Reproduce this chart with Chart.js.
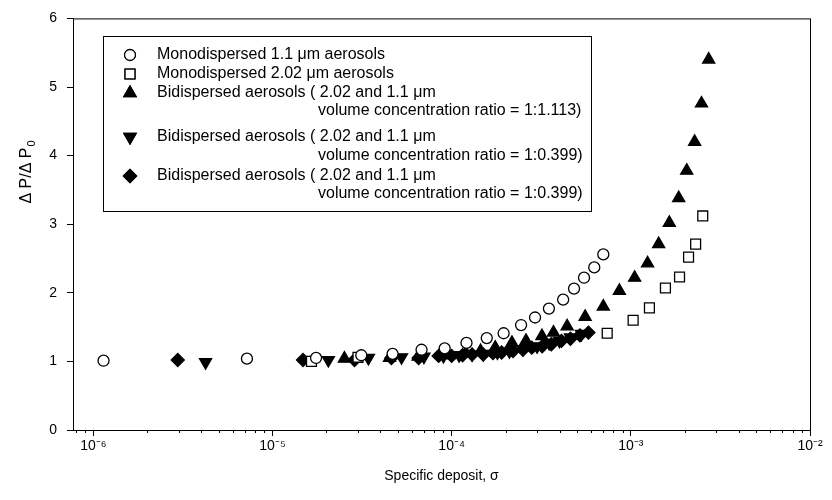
<!DOCTYPE html>
<html>
<head>
<meta charset="utf-8">
<script src="https://cdn.jsdelivr.net/npm/chart.js@4/dist/chart.umd.min.js"></script>
<style>
  html, body { margin: 0; padding: 0; background: #fff; }
</style>
</head>
<body>
<canvas id="myChart" width="832" height="500"></canvas>
<script>
// values
const mono11Sigma = [1.14e-6, 7.2e-6, 1.75e-5, 3.13e-5, 4.68e-5, 6.79e-5, 9.14e-5, 1.21e-4, 1.57e-4, 1.95e-4,
  2.44e-4, 2.92e-4, 3.49e-4, 4.19e-4, 4.82e-4, 5.48e-4, 6.25e-4, 7.02e-4];
const mono11Ratio = [1.01, 1.04, 1.05, 1.09, 1.11, 1.17, 1.19, 1.27, 1.34, 1.41,
  1.53, 1.64, 1.77, 1.90, 2.06, 2.22, 2.37, 2.56];

const mono202Sigma = [1.65e-5, 3.0e-5, 7.38e-4, 1.03e-3, 1.27e-3, 1.56e-3, 1.87e-3, 2.10e-3, 2.30e-3, 2.52e-3];
const mono202Ratio = [1.0, 1.06, 1.41, 1.60, 1.78, 2.07, 2.23, 2.52, 2.71, 3.12];

const bi1113Sigma = [2.52e-5, 4.5e-5, 6.5e-5, 9.0e-5, 1.2e-4, 1.45e-4, 1.75e-4, 2.17e-4, 2.6e-4, 3.19e-4,
  3.7e-4, 4.41e-4, 5.56e-4, 7.02e-4, 8.63e-4, 1.05e-3, 1.24e-3, 1.43e-3, 1.64e-3, 1.85e-3,
  2.05e-3, 2.27e-3, 2.48e-3, 2.72e-3];
const bi1113Ratio = [1.04, 1.05, 1.07, 1.09, 1.12, 1.15, 1.20, 1.27, 1.30, 1.37,
  1.42, 1.51, 1.65, 1.80, 2.03, 2.22, 2.43, 2.71, 3.02, 3.38,
  3.78, 4.20, 4.76, 5.40];

const bi0399aSigma = [4.23e-6, 2.05e-5, 3.43e-5, 5.25e-5, 7.0e-5, 9.0e-5, 1.1e-4, 1.3e-4, 1.5e-4, 1.8e-4,
  2.1e-4, 2.5e-4, 3.0e-4, 3.5e-4, 4.0e-4, 4.6e-4, 5.3e-4];
const bi0399aRatio = [0.99, 1.02, 1.05, 1.06, 1.07, 1.08, 1.09, 1.10, 1.11, 1.13,
  1.15, 1.18, 1.22, 1.27, 1.30, 1.35, 1.40];

const bi0399bSigma = [2.96e-6, 1.48e-5, 2.87e-5, 4.61e-5, 6.54e-5, 8.46e-5, 1.0e-4, 1.15e-4, 1.3e-4, 1.5e-4,
  1.7e-4, 1.9e-4, 2.2e-4, 2.5e-4, 2.8e-4, 3.2e-4, 3.6e-4, 4.1e-4, 4.6e-4, 5.2e-4, 5.8e-4];
const bi0399bRatio = [1.02, 1.02, 1.02, 1.05, 1.05, 1.08, 1.08, 1.09, 1.10, 1.10,
  1.12, 1.13, 1.15, 1.17, 1.20, 1.22, 1.25, 1.30, 1.33, 1.38, 1.42];

const legendLines = [
  ["Monodispersed 1.1 \u03bcm aerosols"],
  ["Monodispersed 2.02 \u03bcm aerosols"],
  ["Bidispersed aerosols ( 2.02 and 1.1 \u03bcm", "volume concentration ratio = 1:1.113)"],
  ["Bidispersed aerosols ( 2.02 and 1.1 \u03bcm", "volume concentration ratio = 1:0.399)"],
  ["Bidispersed aerosols ( 2.02 and 1.1 \u03bcm", "volume concentration ratio = 1:0.399)"]
];

const xTickValues = [1e-6, 1e-5, 1e-4, 1e-3, 1e-2];
const xTickLabels = ["10\u207b\u2076", "10\u207b\u2075", "10\u207b\u2074", "10\u207b\u00b3", "10\u207b\u00b2"];
const yTickValues = [0, 1, 2, 3, 4, 5, 6];
const yTitle = "\u0394 P/\u0394 P";
const yTitleSub = "0";

const fontFamily = "'Liberation Sans', Arial, sans-serif";

function toPoints(xs, ys) {
  return xs.map((x, i) => ({ x: x, y: ys[i] }));
}

const markers = [
  { pointStyle: "circle", radius: 5.5, fill: "#fff", rotation: 0 },
  { pointStyle: "rect", radius: 7, fill: "#fff", rotation: 0 },
  { pointStyle: "triangle", radius: 7, fill: "#000", rotation: 0 },
  { pointStyle: "triangle", radius: 7, fill: "#000", rotation: 180 },
  { pointStyle: "rectRot", radius: 6.5, fill: "#000", rotation: 0 }
];

const allSeries = [
  toPoints(mono11Sigma, mono11Ratio),
  toPoints(mono202Sigma, mono202Ratio),
  toPoints(bi1113Sigma, bi1113Ratio),
  toPoints(bi0399aSigma, bi0399aRatio),
  toPoints(bi0399bSigma, bi0399bRatio)
];

const datasets = allSeries.map((pts, i) => ({
  label: legendLines[i].join(" "),
  data: pts,
  showLine: false,
  pointStyle: markers[i].pointStyle,
  pointRadius: markers[i].radius,
  pointRotation: markers[i].rotation,
  pointBackgroundColor: markers[i].fill,
  pointBorderColor: "#000",
  pointBorderWidth: 1.3,
  pointHoverRadius: markers[i].radius
}));

// box, minor log ticks, y title and the legend
const framePlugin = {
  id: "frame",
  afterDraw(chart) {
    const ctx = chart.ctx;
    const area = chart.chartArea;
    const xScale = chart.scales.x;
    ctx.save();
    ctx.strokeStyle = "#000";
    ctx.lineWidth = 1;
    ctx.strokeRect(area.left + 0.5, area.top + 0.5, area.right - area.left, area.bottom - area.top);

    // minor ticks
    ctx.beginPath();
    for (let e = -7; e <= -3; e++) {
      for (let k = 2; k <= 9; k++) {
        const v = k * Math.pow(10, e);
        if (v < xScale.min || v > xScale.max) continue;
        const px = Math.round(xScale.getPixelForValue(v)) + 0.5;
        ctx.moveTo(px, area.bottom);
        ctx.lineTo(px, area.bottom + 3);
      }
    }
    ctx.stroke();

    // y title with subscript
    ctx.save();
    ctx.translate(27, 172);
    ctx.rotate(-Math.PI / 2);
    ctx.fillStyle = "#000";
    ctx.textBaseline = "middle";
    ctx.font = "16px " + fontFamily;
    const mainW = ctx.measureText(yTitle).width;
    ctx.font = "11px " + fontFamily;
    const subW = ctx.measureText(yTitleSub).width;
    const startX = -(mainW + subW + 1) / 2;
    ctx.font = "16px " + fontFamily;
    ctx.textAlign = "left";
    ctx.fillText(yTitle, startX, 0);
    ctx.font = "11px " + fontFamily;
    ctx.fillText(yTitleSub, startX + mainW + 1, 5);
    ctx.restore();

    // legend
    const boxLeft = 103, boxTop = 36, boxRight = 591, boxBottom = 211;
    ctx.fillStyle = "#fff";
    ctx.fillRect(boxLeft, boxTop, boxRight - boxLeft, boxBottom - boxTop);
    ctx.strokeRect(boxLeft + 0.5, boxTop + 0.5, boxRight - boxLeft, boxBottom - boxTop);
    const rowY = [[55], [74], [93, 111], [137, 156], [176, 194]];
    ctx.font = "16px " + fontFamily;
    ctx.textBaseline = "middle";
    ctx.textAlign = "left";
    legendLines.forEach((lines, i) => {
      Chart.helpers.drawPoint(ctx, {
        pointStyle: markers[i].pointStyle,
        radius: markers[i].radius,
        rotation: markers[i].rotation,
        borderWidth: 1.3
      }, 130, rowY[i][0]);
      ctx.fillStyle = markers[i].fill;
      ctx.strokeStyle = "#000";
      ctx.lineWidth = 1.3;
      ctx.fill();
      ctx.stroke();
      ctx.fillStyle = "#000";
      ctx.fillText(lines[0], 157, rowY[i][0]);
      if (lines[1]) ctx.fillText(lines[1], 318, rowY[i][1]);
    });
    ctx.restore();
  }
};

const config = {
  type: "scatter",
  data: { datasets: datasets },
  options: {
    responsive: false,
    devicePixelRatio: 1,
    animation: false,
    layout: { padding: { left: 0, top: 13, right: 22, bottom: 0 } },
    plugins: {
      legend: { display: false },
      tooltip: { enabled: false }
    },
    scales: {
      x: {
        type: "logarithmic",
        min: 7.7e-7,
        max: 1e-2,
        afterBuildTicks: (scale) => {
          scale.ticks = xTickValues.map((v) => ({ value: v }));
        },
        afterFit: (scale) => {
          scale.height = 70;
        },
        ticks: {
          autoSkip: false,
          maxRotation: 0,
          padding: 2,
          color: "#000",
          font: { family: fontFamily, size: 14 },
          callback: (value) => {
            const idx = xTickValues.findIndex((v) => Math.abs(v - value) / v < 1e-6);
            return idx >= 0 ? xTickLabels[idx] : "";
          }
        },
        grid: { drawOnChartArea: false, drawTicks: true, tickLength: 6, tickColor: "#000" },
        border: { display: true, color: "#000", width: 1 },
        title: {
          display: true,
          text: "Specific deposit, \u03c3",
          color: "#000",
          font: { family: fontFamily, size: 14 },
          padding: { top: 0, bottom: 15 }
        }
      },
      y: {
        min: 0,
        max: 6,
        afterBuildTicks: (scale) => {
          scale.ticks = yTickValues.map((v) => ({ value: v }));
        },
        afterFit: (scale) => {
          scale.width = 73;
        },
        ticks: {
          padding: 10,
          color: "#000",
          font: { family: fontFamily, size: 14 }
        },
        grid: { drawOnChartArea: false, drawTicks: true, tickLength: 6, tickColor: "#000" },
        border: { display: true, color: "#000", width: 1 },
        title: { display: false }
      }
    }
  },
  plugins: [framePlugin]
};

let myChart = new Chart(document.getElementById("myChart"), config);
</script>
</body>
</html>
